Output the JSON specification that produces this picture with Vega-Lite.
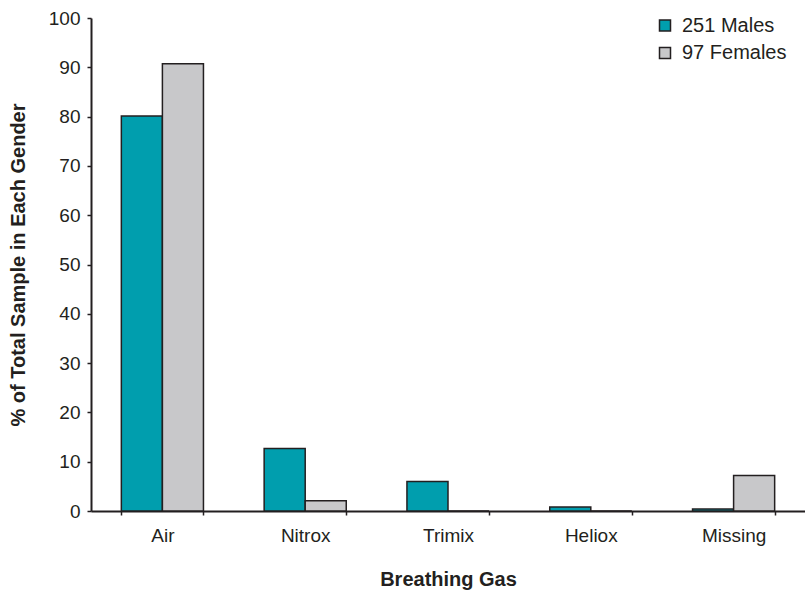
{
  "$schema": "https://vega.github.io/schema/vega-lite/v6.json",
  "width": 714,
  "height": 493,
  "autosize": {"type": "none"},
  "padding": {"left": 91, "top": 18, "right": 0, "bottom": 80},
  "background": "white",
  "config": {
    "view": {"stroke": null},
    "font": "Liberation Sans",
    "axis": {"labelFont": "Liberation Sans", "titleFont": "Liberation Sans", "labelColor": "#231f20", "titleColor": "#231f20", "domainColor": "#231f20", "tickColor": "#231f20"},
    "legend": {"labelFont": "Liberation Sans", "labelColor": "#231f20"}
  },
  "data": {
    "values": [
      {"gas": "Air", "group": "251 Males", "pct": 80.1},
      {"gas": "Air", "group": "97 Females", "pct": 90.7},
      {"gas": "Nitrox", "group": "251 Males", "pct": 12.7},
      {"gas": "Nitrox", "group": "97 Females", "pct": 2.1},
      {"gas": "Trimix", "group": "251 Males", "pct": 6.0},
      {"gas": "Trimix", "group": "97 Females", "pct": 0},
      {"gas": "Heliox", "group": "251 Males", "pct": 0.8},
      {"gas": "Heliox", "group": "97 Females", "pct": 0},
      {"gas": "Missing", "group": "251 Males", "pct": 0.4},
      {"gas": "Missing", "group": "97 Females", "pct": 7.2}
    ]
  },
  "mark": {"type": "bar", "stroke": "#231f20", "strokeWidth": 1.5},
  "encoding": {
    "x": {
      "field": "gas",
      "type": "nominal",
      "sort": ["Air", "Nitrox", "Trimix", "Heliox", "Missing"],
      "scale": {"paddingInner": 0.425, "paddingOuter": 0.2125},
      "axis": {
        "title": "Breathing Gas",
        "labelAngle": 0,
        "labelFontSize": 19,
        "titleFontSize": 20,
        "titleFontWeight": "bold",
        "tickBand": "extent",
        "tickSize": 4,
        "tickWidth": 1.5,
        "domainWidth": 2,
        "labelPadding": 11,
        "titlePadding": 24
      }
    },
    "xOffset": {"field": "group", "type": "nominal", "scale": {"paddingInner": 0, "paddingOuter": 0}},
    "y": {
      "field": "pct",
      "type": "quantitative",
      "scale": {"domain": [0, 100], "nice": false},
      "axis": {
        "title": "% of Total Sample in Each Gender",
        "values": [0, 10, 20, 30, 40, 50, 60, 70, 80, 90, 100],
        "grid": false,
        "labelFontSize": 19,
        "titleFontSize": 20,
        "titleFontWeight": "bold",
        "tickSize": 4,
        "tickWidth": 1.5,
        "domainWidth": 2,
        "labelPadding": 7,
        "titlePadding": 20
      }
    },
    "color": {
      "field": "group",
      "type": "nominal",
      "scale": {"domain": ["251 Males", "97 Females"], "range": ["#009eae", "#c8c8ca"]},
      "legend": {
        "title": null,
        "orient": "none",
        "legendX": 564,
        "legendY": -2.5,
        "padding": 0,
        "symbolType": "square",
        "symbolSize": 121,
        "symbolStrokeColor": "#231f20",
        "symbolStrokeWidth": 1.5,
        "labelFontSize": 20,
        "labelOffset": 7,
        "rowPadding": 7.5
      }
    }
  }
}
